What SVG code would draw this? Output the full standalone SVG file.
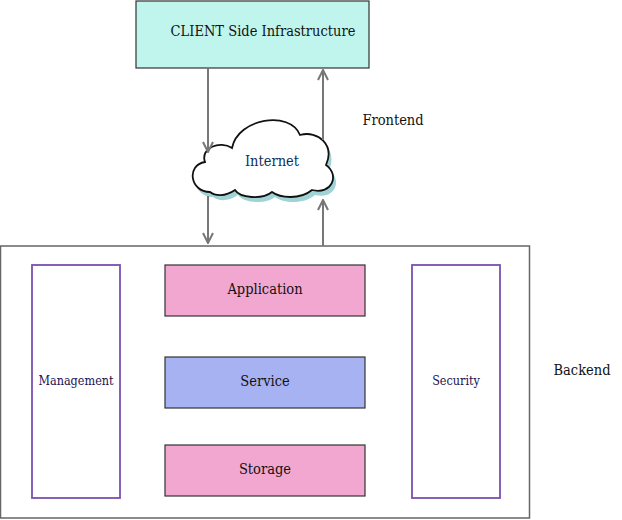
<svg xmlns="http://www.w3.org/2000/svg" width="622" height="520" viewBox="0 0 622 520">
<defs>
<style>
text{font-family:'DejaVu Serif Condensed','DejaVu Serif',serif;font-stretch:condensed;font-size:14.5px;fill:#111;text-anchor:middle}
.box{stroke:#333;stroke-width:1.2}
.side{fill:#fff;stroke:#7a4fb0;stroke-width:1.8}
.conn{stroke:#777;stroke-width:2;fill:none;marker-end:url(#ah)}
</style>
<marker id="ah" viewBox="0 0 12 12" refX="11" refY="6" markerWidth="12" markerHeight="12" markerUnits="userSpaceOnUse" orient="auto">
<path d="M1,1 L11,6 L1,11" fill="none" stroke="#777" stroke-width="2"/>
</marker>
</defs>
<g id="client">
<rect x="136" y="1" width="233" height="67" fill="#bff5ec" class="box"/>
<text x="263" y="36">CLIENT Side Infrastructure</text>
</g>
<g id="frontend-label"><text x="393" y="125">Frontend</text></g>
<g id="backend">
<rect x="0.5" y="246" width="529" height="272" fill="#fff" stroke="#666" stroke-width="1.5"/>
</g>
<g id="backend-label"><text x="582" y="375">Backend</text></g>
<g id="internet">
<path transform="translate(3,5)" fill="#9fd3d6" d="M210,192 C190,192 186,165 205,162 C200,148 220,140 232,148 C238,118 290,110 300,135 C318,130 335,145 326,165 C340,175 332,195 312,190 C300,200 280,198 272,192 C262,200 240,198 235,190 C225,197 215,196 210,192 Z"/>
<path fill="#fff" stroke="#111" stroke-width="1.8" d="M210,192 C190,192 186,165 205,162 C200,148 220,140 232,148 C238,118 290,110 300,135 C318,130 335,145 326,165 C340,175 332,195 312,190 C300,200 280,198 272,192 C262,200 240,198 235,190 C225,197 215,196 210,192 Z"/>
<text x="272" y="166" style="fill:#0b2f5e">Internet</text>
</g>
<g id="management">
<rect x="32" y="265" width="88" height="233" class="side"/>
<text x="76" y="385" style="fill:#1c1250;font-size:12.5px">Management</text>
</g>
<g id="security">
<rect x="412" y="265" width="88" height="233" class="side"/>
<text x="456" y="385" style="fill:#1c1250;font-size:12.5px">Security</text>
</g>
<g id="application">
<rect x="165" y="265" width="200" height="51" fill="#f2a7d0" class="box"/>
<text x="265" y="294">Application</text>
</g>
<g id="service">
<rect x="165" y="357" width="200" height="51" fill="#a7b2f2" class="box"/>
<text x="265" y="386">Service</text>
</g>
<g id="storage">
<rect x="165" y="445" width="200" height="51" fill="#f2a7d0" class="box"/>
<text x="265" y="474">Storage</text>
</g>
<g id="connectors">
<line x1="208" y1="68" x2="208" y2="152" class="conn"/>
<line x1="323" y1="140" x2="323" y2="70" class="conn"/>
<line x1="208" y1="196" x2="208" y2="243" class="conn"/>
<line x1="323" y1="246" x2="323" y2="200" class="conn"/>
</g>
</svg>
